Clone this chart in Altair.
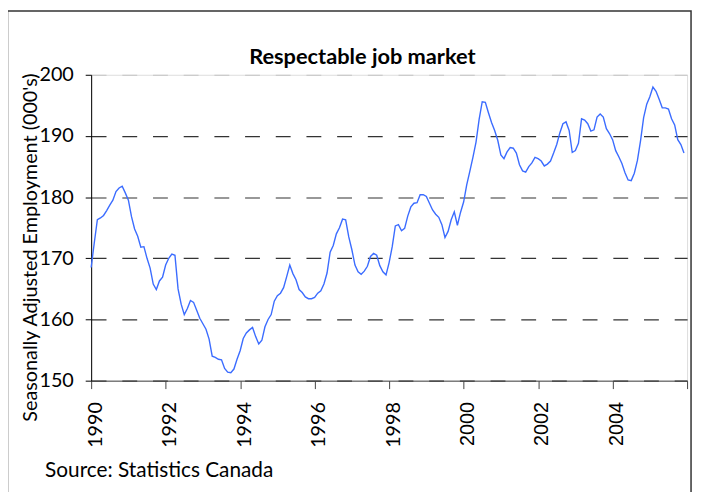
import altair as alt
import pandas as pd

start_year = 1990
# Seasonally adjusted employment (000's), monthly Jan 1990 - Dec 2005
employment = [
    168.5, 172.5, 176.3, 176.6, 177.0, 177.8, 178.7, 179.5, 180.9, 181.5, 181.8, 180.7,
    179.5, 176.8, 174.8, 173.6, 171.8, 171.9, 170.0, 168.4, 165.8, 164.9, 166.3, 166.9,
    168.9, 170.0, 170.7, 170.5, 165.0, 162.5, 160.8, 161.8, 163.1, 162.8, 161.5, 160.2,
    159.3, 158.4, 156.8, 154.0, 153.8, 153.5, 153.4, 152.0, 151.4, 151.3, 151.9, 153.5,
    154.9, 156.9, 157.8, 158.3, 158.7, 157.2, 156.0, 156.6, 158.8, 160.0, 160.8, 163.0,
    163.9, 164.3, 165.2, 167.0, 168.9, 167.5, 166.5, 164.9, 164.4, 163.7, 163.4, 163.4,
    163.6, 164.3, 164.7, 165.8, 167.6, 171.0, 172.1, 174.0, 175.0, 176.4, 176.3, 173.5,
    171.4, 168.9, 167.8, 167.4, 167.9, 168.7, 170.3, 170.8, 170.5, 168.8, 167.8, 167.3,
    169.3, 171.9, 175.3, 175.5, 174.5, 174.9, 176.9, 178.4, 179.0, 179.1, 180.4, 180.4,
    180.1, 179.0, 177.9, 177.2, 176.7, 175.5, 173.4, 174.4, 176.3, 177.6, 175.4, 177.5,
    179.2, 182.0, 184.2, 186.5, 189.0, 192.7, 195.6, 195.5, 193.8, 192.2, 190.9, 189.3,
    186.9, 186.3, 187.4, 188.1, 188.0, 187.2, 185.3, 184.3, 184.1, 185.0, 185.6, 186.5,
    186.3, 185.9, 185.1, 185.4, 185.9, 187.2, 188.6, 190.5, 192.0, 192.3, 190.9, 187.3,
    187.6, 188.8, 192.8, 192.6, 192.0, 190.8, 191.0, 193.1, 193.6, 193.1, 191.2, 190.4,
    189.4, 187.6, 186.6, 185.5, 184.0, 182.8, 182.7, 183.9, 186.0, 189.2, 193.0, 195.2,
    196.4, 198.0, 197.3, 196.0, 194.6, 194.6, 194.4, 192.8, 191.8, 189.4, 188.6, 187.2,
]
year_ticks = [1990, 1992, 1994, 1996, 1998, 2000, 2002, 2004, 2006]
y_ticks = [150, 160, 170, 180, 190, 200]
chart_title = "Respectable job market"

df = pd.DataFrame({
    "t": [start_year + i / 12 for i in range(len(employment))],
    "emp": employment,
})

x_axis = alt.Axis(
    values=year_ticks,
    format="d",
    labelExpr="datum.value >= 2006 ? '' : format(datum.value, 'd')",
    labelAngle=270,
    labelAlign="right",
    labelBaseline="middle",
    labelPadding=13,
    labelOffset=4,
    labelFont={"condition": {"test": "datum.value >= 2000", "value": "Liberation Sans"}, "value": "Lato"},
    labelFontSize={"condition": {"test": "datum.value >= 2000", "value": 20}, "value": 20},
    labelColor="black",
    tickSize=8,
    tickColor="#444",
    domainColor="#444",
    grid=False,
    title="Source: Statistics Canada",
    titleFont="Lato",
    titleFontSize=21,
    titleFontWeight="normal",
    titleColor="black",
    titleX=-47,
    titleY=97,
    titleAlign="left",
    titleBaseline="alphabetic",
)

y_axis = alt.Axis(
    values=y_ticks,
    labelFont="Lato",
    labelFontSize=20,
    labelColor="black",
    labelPadding=12,
    tickSize=6,
    tickColor="black",
    domainColor="black",
    grid=True,
    gridDash=[15, 16],
    gridColor={"condition": {"test": "datum.value == 200", "value": "#c4c4c4"}, "value": "#333333"},
    gridWidth=1.2,
    title="Seasonally Adjusted Employment (000's)",
    titleFont="Lato",
    titleFontSize=20,
    titleFontWeight="normal",
    titleColor="black",
    titleAngle=270,
    titleX=-55,
    titleY=174,
    titleBaseline="alphabetic",
)

line = alt.Chart(df).mark_line(color="#3b6cff", strokeWidth=1.4).encode(
    x=alt.X("t:Q", scale=alt.Scale(domain=[1990, 2006], nice=False, zero=False), axis=x_axis),
    y=alt.Y("emp:Q", scale=alt.Scale(domain=[150, 200], nice=False, zero=False), axis=y_axis),
)

title_text = alt.Chart(pd.DataFrame({"label": [chart_title]})).mark_text(
    font="Lato", fontSize=22, fontWeight="bold", color="black",
    align="center", baseline="alphabetic",
).encode(
    text="label:N", x=alt.value(274), y=alt.value(-11)
)

frame = alt.Chart(pd.DataFrame({"a": [0]})).mark_rect(
    fill=None, stroke="#333333", strokeWidth=1.5
).encode(
    x=alt.value(-84.5), x2=alt.value(606), y=alt.value(-64.5), y2=alt.value(520)
)

chart = alt.layer(line, title_text, frame).properties(
    width=602,
    height=309,
    autosize=alt.AutoSizeParams(type="none"),
    padding={"left": 84, "top": 65, "right": 8, "bottom": 110},
).configure_view(stroke=None).configure(background="white")

chart.save("out.html", embed_options={"renderer": "svg", "actions": False})
